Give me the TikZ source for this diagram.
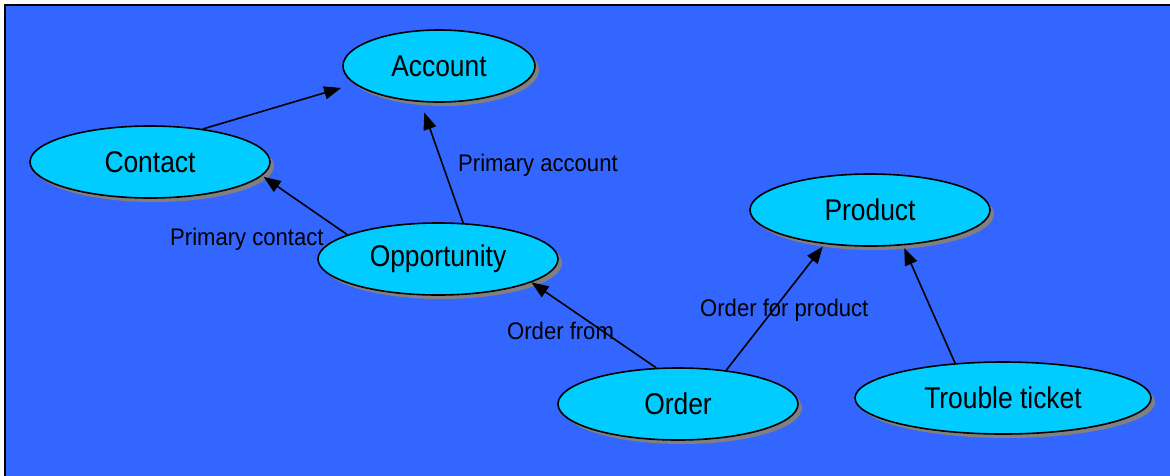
\documentclass[tikz,border=0pt]{standalone}
\usepackage{fontspec}
\setmainfont{Liberation Sans}[FakeStretch=0.88]
\newfontfamily\lblfont{Liberation Sans}[FakeStretch=0.92]
\usetikzlibrary{arrows.meta,shapes.geometric,shadows}
\definecolor{bgblue}{RGB}{51,102,255}
\definecolor{entcyan}{RGB}{0,204,255}
\begin{document}
\begin{tikzpicture}[x=1pt,y=-1pt,
  ent/.style={ellipse,draw,line width=1.6pt,fill=entcyan,minimum width=240pt,minimum height=72pt,inner sep=0pt,font=\fontsize{30}{32}\selectfont,drop shadow={shadow xshift=4pt,shadow yshift=-4pt,fill=gray,opacity=1}},
  lbl/.style={font=\lblfont\fontsize{24}{26}\selectfont,inner sep=0pt,anchor=base west},
  arr/.style={line width=1.6pt,-{Triangle[length=17pt,width=13pt]}}]
\useasboundingbox (0,0) rectangle (1170,475);
\fill[bgblue] (5,5) rectangle (1175,480);
\draw[line width=2pt] (5,480) -- (5,5) -- (1175,5);
% entities
\node[ent,minimum width=192pt] (account) at (439,66) {Account};
\node[ent] (contact) at (150,162) {Contact};
\node[ent] (opportunity) at (438,259) {Opportunity};
\node[ent] (product) at (870,210) {Product};
\node[ent] (order) at (678,404) {Order};
\node[ent,minimum width=296pt] (ticket) at (1003,398) {Trouble ticket};
% relations
\draw[arr,shorten >=14pt] (contact.32) -- (account.192);
\draw[arr,shorten >=11pt] (opportunity.55) -- (account.243);
\draw[arr,shorten >=2pt] (opportunity.165) -- (contact.-7);
\draw[arr] (order.121) -- (opportunity.-14);
\draw[arr,shorten >=3pt] (order.35) -- (product.217);
\draw[arr,shorten >=3pt] (ticket.144) -- (product.-47);
\node[lbl] (lacc) at (458,171) {Primary account};
\node[lbl] (lcon) at (170,245) {Primary contact};
\node[lbl] (lfrom) at (507,339) {Order from};
\node[lbl] (lprod) at (700,316) {Order for product};
\end{tikzpicture}
\end{document}
